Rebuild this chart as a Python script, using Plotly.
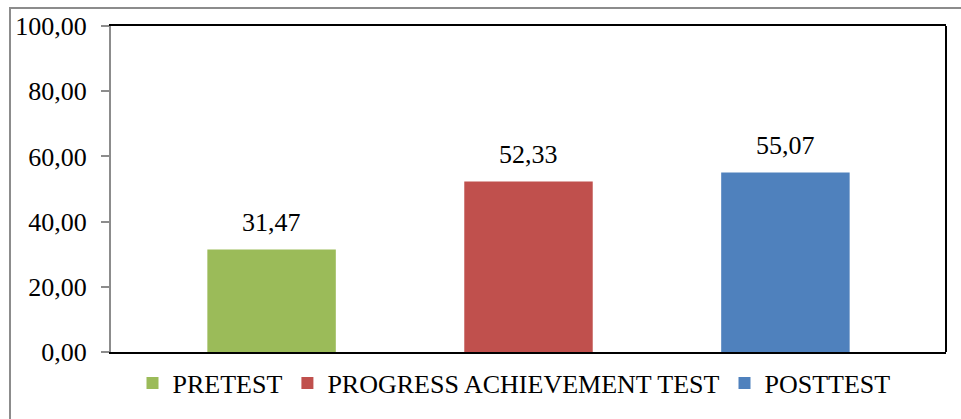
import plotly.graph_objects as go

# Mean scores for each test stage
categories = ["PRETEST", "PROGRESS ACHIEVEMENT TEST", "POSTTEST"]
scores = [31.47, 52.33, 55.07]
colors = ["#9BBB59", "#C0504D", "#4F81BD"]
y_ticks = [0, 20, 40, 60, 80, 100]

W, H = 961, 419
ML, MR, MT, MB = 111, 15, 26, 67
plot_w = W - ML - MR
plot_h = H - MT - MB

FONT = "Liberation Serif, Times New Roman, serif"

fig = go.Figure()
for name, val, col in zip(categories, scores, colors):
    fig.add_trace(go.Bar(
        x=[name], y=[val], name=name,
        marker=dict(color=col, line=dict(width=0)),
        width=0.5,
    ))

# value labels above each bar
for name, val in zip(categories, scores):
    fig.add_annotation(
        x=name, y=val, text=f"{val:.2f}".replace(".", ","),
        showarrow=False, yanchor="bottom", yshift=10,
        font=dict(family=FONT, size=26, color="black"),
    )

# outer chart frame (left and top edges fall inside the page)
fig.add_shape(
    type="rect", xref="paper", yref="paper",
    x0=(10 - ML) / plot_w, x1=1.2,
    y0=-0.4, y1=1 + (MT - 8) / plot_h,
    line=dict(color="#8c8c8c", width=2), layer="below",
)
# right edge of plot area
fig.add_shape(
    type="line", xref="paper", yref="paper",
    x0=1, x1=1, y0=0, y1=1,
    line=dict(color="black", width=2),
)

fig.update_layout(
    width=W, height=H,
    margin=dict(l=ML, r=MR, t=MT, b=MB),
    paper_bgcolor="white", plot_bgcolor="white",
    separators=",.",
    barmode="relative",
    showlegend=True,
    legend=dict(
        orientation="h", x=(514 - ML) / plot_w, xanchor="center",
        y=-(383 - (H - MB)) / plot_h, yanchor="middle",
        font=dict(family=FONT, size=26, color="black"),
        itemwidth=30, tracegroupgap=0,
    ),
    font=dict(family=FONT, size=26, color="black"),
    xaxis=dict(
        type="category", range=[-0.625, 2.625],
        showticklabels=False, ticks="",
        showline=True, linecolor="black", linewidth=2, mirror=True,
        showgrid=False, zeroline=False,
    ),
    yaxis=dict(
        range=[0, 100], tickvals=y_ticks, tickformat=".2f",
        ticks="outside", ticklen=8, tickwidth=2, tickcolor="#8c8c8c",
        ticklabelstandoff=9,
        showline=True, linecolor="#8c8c8c", linewidth=2,
        showgrid=False, zeroline=False,
        tickfont=dict(family=FONT, size=26, color="black"),
    ),
)

fig.write_html("out.html")
